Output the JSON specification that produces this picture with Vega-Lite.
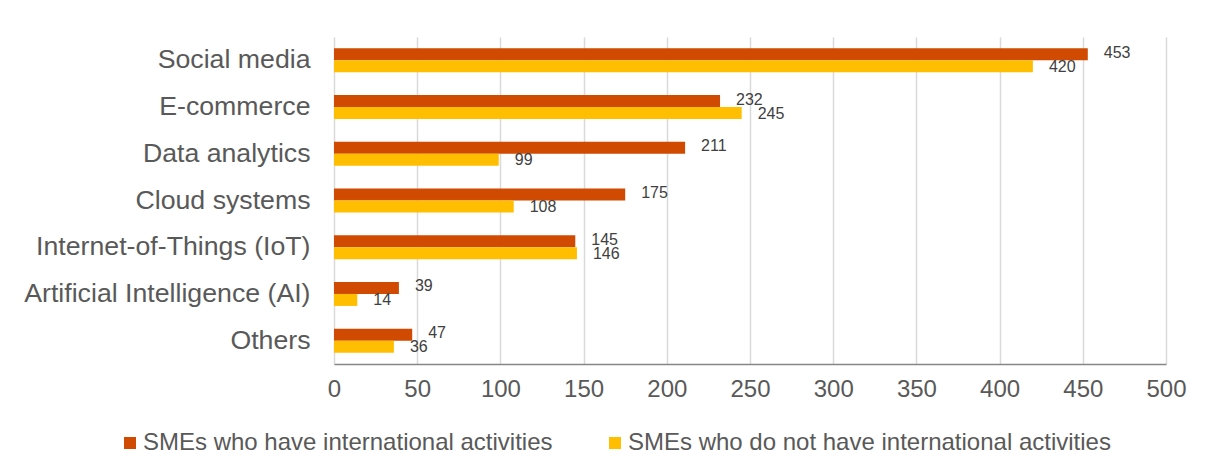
{
  "$schema": "https://vega.github.io/schema/vega-lite/v6.json",
  "width": 832,
  "height": 327,
  "autosize": {"type": "none"},
  "padding": {"left": 334, "top": 37, "right": 47, "bottom": 112},
  "background": "white",
  "config": {
    "font": "Liberation Sans",
    "view": {"stroke": null}
  },
  "data": {
    "values": [
      {"category": "Social media", "group": "SMEs who have international activities", "value": 453},
      {"category": "Social media", "group": "SMEs who do not have international activities", "value": 420},
      {"category": "E-commerce", "group": "SMEs who have international activities", "value": 232},
      {"category": "E-commerce", "group": "SMEs who do not have international activities", "value": 245},
      {"category": "Data analytics", "group": "SMEs who have international activities", "value": 211},
      {"category": "Data analytics", "group": "SMEs who do not have international activities", "value": 99},
      {"category": "Cloud systems", "group": "SMEs who have international activities", "value": 175},
      {"category": "Cloud systems", "group": "SMEs who do not have international activities", "value": 108},
      {"category": "Internet-of-Things (IoT)", "group": "SMEs who have international activities", "value": 145},
      {"category": "Internet-of-Things (IoT)", "group": "SMEs who do not have international activities", "value": 146},
      {"category": "Artificial Intelligence (AI)", "group": "SMEs who have international activities", "value": 39},
      {"category": "Artificial Intelligence (AI)", "group": "SMEs who do not have international activities", "value": 14},
      {"category": "Others", "group": "SMEs who have international activities", "value": 47},
      {"category": "Others", "group": "SMEs who do not have international activities", "value": 36}
    ]
  },
  "encoding": {
    "y": {
      "field": "category",
      "type": "nominal",
      "sort": null,
      "scale": {"paddingInner": 0.486, "paddingOuter": 0.243},
      "axis": {
        "title": null,
        "labelFontSize": 26.7,
        "labelColor": "#595959",
        "labelPadding": 24,
        "labelLimit": 500,
        "ticks": false,
        "domain": false,
        "grid": false
      }
    },
    "yOffset": {
      "field": "group",
      "type": "nominal",
      "sort": ["SMEs who have international activities", "SMEs who do not have international activities"]
    },
    "x": {
      "field": "value",
      "type": "quantitative",
      "scale": {"domain": [0, 500], "nice": false},
      "axis": {
        "title": null,
        "values": [0, 50, 100, 150, 200, 250, 300, 350, 400, 450, 500],
        "labelFontSize": 24,
        "labelColor": "#595959",
        "labelPadding": 13,
        "labelFlush": false,
        "labelOverlap": false,
        "ticks": false,
        "domainColor": "#868686",
        "domainWidth": 1.5,
        "gridColor": "#d9d9d9",
        "gridWidth": 1.5
      }
    }
  },
  "layer": [
    {
      "mark": {"type": "bar", "cornerRadius": 0},
      "encoding": {
        "color": {
          "field": "group",
          "type": "nominal",
          "sort": ["SMEs who have international activities", "SMEs who do not have international activities"],
          "scale": {
            "domain": ["SMEs who have international activities", "SMEs who do not have international activities"],
            "range": ["#D04A02", "#FFBF00"]
          },
          "legend": {
            "title": null,
            "orient": "none",
            "direction": "horizontal",
            "legendX": -216,
            "legendY": 394,
            "symbolType": "square",
            "symbolSize": 144,
            "symbolStrokeWidth": 0,
            "labelFontSize": 24,
            "labelColor": "#595959",
            "labelOffset": 1,
            "columnPadding": 50,
            "labelLimit": 700
          }
        }
      }
    },
    {
      "transform": [{"filter": "datum.group === 'SMEs who have international activities'"}],
      "mark": {"type": "text", "align": "left", "baseline": "middle", "dx": 16, "dy": -1.5, "fontSize": 16, "color": "#404040"},
      "encoding": {
        "text": {"field": "value", "type": "quantitative"}
      }
    },
    {
      "transform": [{"filter": "datum.group === 'SMEs who do not have international activities'"}],
      "mark": {"type": "text", "align": "left", "baseline": "middle", "dx": 16, "dy": 0.5, "fontSize": 16, "color": "#404040"},
      "encoding": {
        "text": {"field": "value", "type": "quantitative"}
      }
    }
  ]
}
